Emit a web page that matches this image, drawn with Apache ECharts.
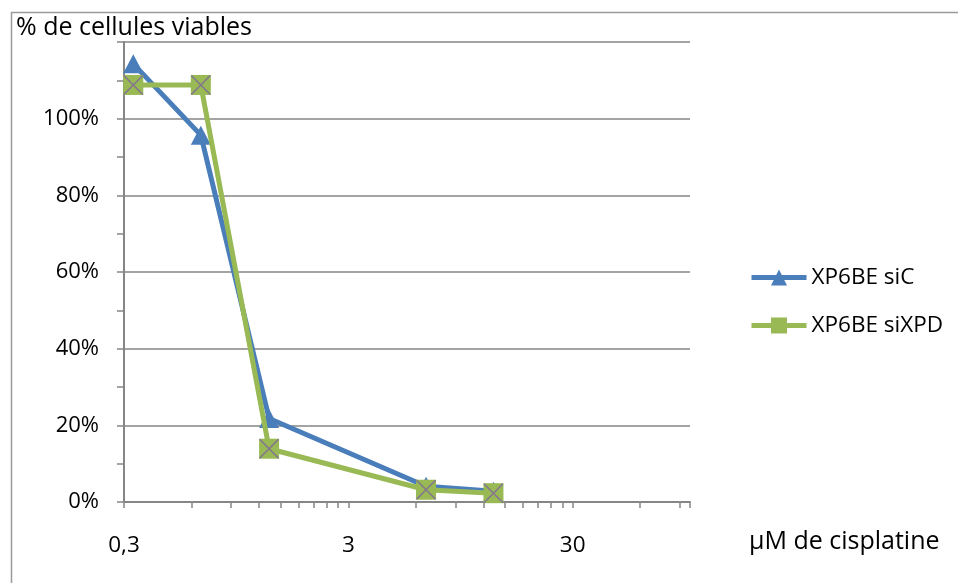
<!DOCTYPE html>
<html>
<head>
<meta charset="utf-8">
<script src="https://cdn.jsdelivr.net/npm/echarts@6/dist/echarts.min.js"></script>
<style>
html,body{margin:0;padding:0;background:#fff;}
#chart{width:958px;height:583px;}
</style>
</head>
<body>
<div id="chart"></div>
<script>
// ---- data ----
var doses = [0.33, 0.66, 1.33, 6.66, 13.3];           // µM de cisplatine
var siC = [1.143, 0.957, 0.218, 0.041, 0.028];        // XP6BE siC
var siXPD = [1.088, 1.088, 0.139, 0.032, 0.023];      // XP6BE siXPD
var seriesNames = ['XP6BE siC', 'XP6BE siXPD'];
var xMinDose = 0.3, xMaxDose = 100;
var xLabelDoses = [0.3, 3, 30];
var yTitle = '% de cellules viables';
var xTitle = 'µM de cisplatine';

// log transform relative to axis min
function lx(d) { return Math.log10(d / xMinDose); }
var xMax = lx(xMaxDose);
var tickVals = [];
for (var dec = 0; dec < 3; dec++) {
  for (var k = 1; k <= 9; k++) {
    var v = dec + Math.log10(k);
    if (v <= xMax + 1e-9) tickVals.push(v);
  }
}
tickVals.push(xMax);
var labelVals = xLabelDoses.map(lx);

function pairs(ys) { return doses.map(function (d, i) { return [lx(d), ys[i]]; }); }

var FONT = 'Open Sans';
var grey = '#868686';
var chart = echarts.init(document.getElementById('chart'));
chart.setOption({
  animation: false,
  textStyle: { fontFamily: FONT },
  graphic: [{
    type: 'rect', left: 9, top: 10, z: -1,
    shape: { width: 970, height: 600 },
    style: { fill: 'none', stroke: '#9a9a9a', lineWidth: 1.5 }
  }],
  title: [
    { text: yTitle, left: 11, top: 10, textStyle: { fontFamily: FONT, fontSize: 25, fontWeight: 'normal', color: '#000' } },
    { text: xTitle, left: 744, top: 524, textStyle: { fontFamily: FONT, fontSize: 25, fontWeight: 'normal', color: '#000' } }
  ],
  legend: {
    orient: 'vertical', left: 749, top: 266, padding: 0,
    itemWidth: 55, itemHeight: 20, itemGap: 25,
    data: seriesNames,
    lineStyle: { width: 5 },
    textStyle: { fontFamily: FONT, fontSize: 22.5, color: '#000' }
  },
  grid: { left: 124, top: 42, width: 566, height: 460, containLabel: false },
  xAxis: {
    type: 'value', min: 0, max: xMax,
    axisLine: { show: true, lineStyle: { color: grey, width: 2 } },
    axisTick: { show: true, length: 6, customValues: tickVals, lineStyle: { color: grey, width: 1.5 } },
    axisLabel: {
      customValues: labelVals, margin: 32, fontSize: 22.5, color: '#000', fontFamily: FONT,
      formatter: function (v) {
        var d = xMinDose * Math.pow(10, v);
        d = Math.round(d * 10) / 10;
        return String(d).replace('.', ',');
      }
    },
    splitLine: { show: false }
  },
  yAxis: {
    type: 'value', min: 0, max: 1.2, interval: 0.2,
    axisLine: { show: true, lineStyle: { color: grey, width: 2 } },
    axisTick: { show: true, length: 7, lineStyle: { color: grey, width: 1.5 } },
    minorTick: { show: true, splitNumber: 2, length: 7, lineStyle: { color: grey, width: 1.5 } },
    axisLabel: {
      margin: 25, fontSize: 22, color: '#000', fontFamily: FONT, showMaxLabel: false,
      formatter: function (v) { return Math.round(v * 100) + '%'; }
    },
    splitLine: { show: true, lineStyle: { color: grey, width: 1.5 } }
  },
  series: [
    {
      name: seriesNames[0], type: 'line', data: pairs(siC),
      symbol: 'triangle', symbolSize: [20, 19],
      lineStyle: { color: '#4A7EBB', width: 5 },
      itemStyle: { color: '#4A7EBB' }, z: 3
    },
    {
      name: seriesNames[1], type: 'line', data: pairs(siXPD),
      symbol: 'rect', symbolSize: 20,
      lineStyle: { color: '#98B954', width: 5 },
      itemStyle: { color: '#98B954' }, z: 4
    },
    {
      name: seriesNames[1] + ' x', type: 'scatter', data: pairs(siXPD),
      symbol: 'path://M0,0L10,10M10,0L0,10', symbolSize: 19,
      itemStyle: { color: 'none', borderColor: '#7F63A1', borderWidth: 1.5 },
      z: 5, silent: true
    }
  ]
});
</script>
</body>
</html>
